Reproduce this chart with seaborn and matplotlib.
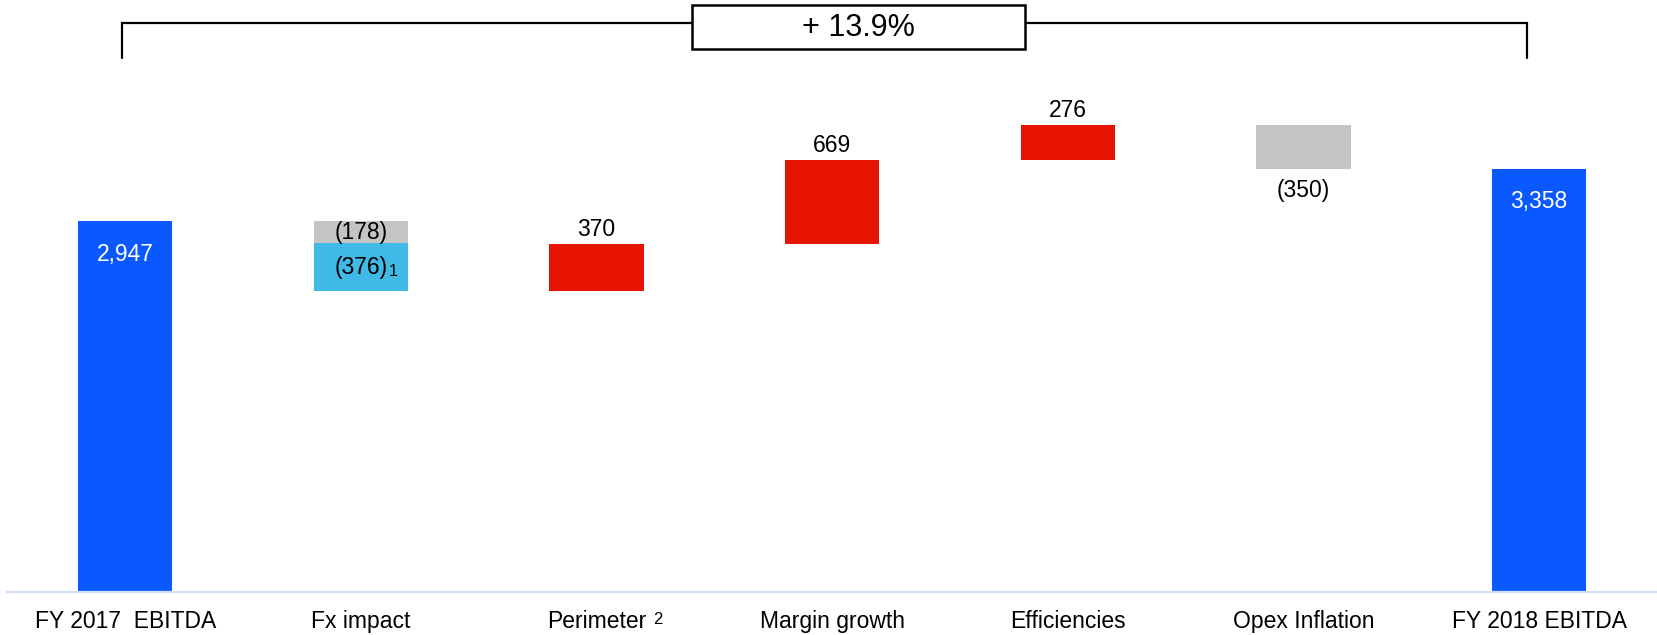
import numpy as np
import pandas as pd
import seaborn as sns
import matplotlib.pyplot as plt
from matplotlib.patches import Rectangle

# data (EBITDA bridge, million)
categories = ["FY 2017  EBITDA", "Fx impact", "Perimeter", "Margin growth",
              "Efficiencies", "Opex Inflation", "FY 2018 EBITDA"]
tick_labels = ["FY 2017  EBITDA", "Fx impact", "Perimeter", "Margin growth",
               "Efficiencies", "Opex Inflation", "FY 2018 EBITDA"]
ebitda_2017 = 2947
ebitda_2018 = 3358
fx_other = -178
fx_translation = -376          # footnote 1
step_names = ["Perimeter", "Margin growth", "Efficiencies", "Opex Inflation"]
step_values = [370, 669, 276, -350]
growth_label = "+ 13.9%"

# colours
blue = "#0a58ff"
red = "#e61400"
grey = "#c4c4c4"
light_blue = "#41b9e6"

sns.set_style("white")
plt.rcParams['font.family'] = ['Liberation Sans', 'DejaVu Sans']
plt.rcParams['text.color'] = 'black'
plt.rcParams['xtick.color'] = 'black'

# work out the floating bars
after_fx = ebitda_2017 + fx_other + fx_translation
fx_blue_bottom = after_fx
fx_grey_bottom = after_fx - fx_translation

up_x, up_h, up_b = [], [], []
down_x, down_h, down_b = ["Fx impact"], [-fx_other], [fx_grey_bottom]
running = after_fx
for name, v in zip(step_names, step_values):
    if v >= 0:
        up_x.append(name); up_h.append(v); up_b.append(running)
    else:
        down_x.append(name); down_h.append(-v); down_b.append(running + v)
    running += v

fig = plt.figure(figsize=(16.57, 6.35), dpi=100)
ax = fig.add_axes([0.0045, 0.0677, 0.9955, 0.9323])

kw = dict(order=categories, width=0.4, saturation=1, errorbar=None, ax=ax, linewidth=0)
sns.barplot(x=[categories[0], categories[-1]], y=[ebitda_2017, ebitda_2018],
            bottom=[0, 0], color=blue, **kw)
sns.barplot(x=up_x, y=up_h, bottom=up_b, color=red, **kw)
sns.barplot(x=down_x, y=down_h, bottom=down_b, color=grey, **kw)
sns.barplot(x=["Fx impact"], y=[-fx_translation], bottom=[fx_blue_bottom],
            color=light_blue, **kw)

ax.set_xlim(-0.5, 6.5)
ax.set_ylim(0, 4702)
ax.set_yticks([])
ax.set_xlabel("")
ax.set_ylabel("")
ax.set_xticks(range(len(categories)))
ax.set_xticklabels(tick_labels, fontsize=16.5, color="black")
ax.tick_params(axis="x", length=0, pad=13)
for s in ["top", "left", "right"]:
    ax.spines[s].set_visible(False)
ax.spines["bottom"].set_color("#d4e0f7")
ax.spines["bottom"].set_linewidth(1.6)

# footnote 2 next to the Perimeter label
pi = categories.index("Perimeter")
ax.annotate("2", (pi, 0), xycoords=ax.get_xaxis_transform(),
            xytext=(41, -19.5), textcoords="offset points", ha="left", va="center",
            fontsize=12, annotation_clip=False)

vfs = 16.5
# totals
ax.annotate(f"{ebitda_2017:,}", (0, ebitda_2017), xytext=(0, -24), textcoords="offset points",
            ha="center", va="center", color="white", fontsize=vfs)
ax.annotate(f"{ebitda_2018:,}", (6, ebitda_2018), xytext=(0, -23), textcoords="offset points",
            ha="center", va="center", color="white", fontsize=vfs)
# fx
ax.text(1, fx_grey_bottom - fx_other / 2, f"({-fx_other})", ha="center", va="center", fontsize=vfs)
ax.text(1, fx_blue_bottom - fx_translation / 2, f"({-fx_translation})", ha="center", va="center",
        fontsize=vfs)
ax.annotate("1", (1, fx_blue_bottom - fx_translation / 2), xytext=(20, -3),
            textcoords="offset points", ha="left", va="center", fontsize=11.5)
# steps
for name, v, b in zip(up_x, up_h, up_b):
    ax.annotate(f"{v:,}", (categories.index(name), b + v), xytext=(0, 2),
                textcoords="offset points", ha="center", va="bottom", fontsize=vfs)
for name, v in zip(step_names, step_values):
    if v < 0:
        i = categories.index(name)
        ax.annotate(f"({-v})", (i, ebitda_2018), xytext=(0, -15), textcoords="offset points",
                    ha="center", va="center", fontsize=vfs)

# growth bracket on top
tr = ax.transAxes
ax.plot([0.0692, 0.0692, 0.921, 0.921], [0.902, 0.961, 0.961, 0.902], color="black",
        lw=1.6, transform=tr, clip_on=False, solid_joinstyle="miter")
ax.add_patch(Rectangle((0.415, 0.918), 0.202, 0.073, transform=tr, facecolor="white",
                       edgecolor="black", lw=1.8, clip_on=False, zorder=5))
ax.text(0.516, 0.952, growth_label, transform=tr, ha="center", va="center", fontsize=22,
        zorder=6)

fig.savefig("out.png", dpi=100)
